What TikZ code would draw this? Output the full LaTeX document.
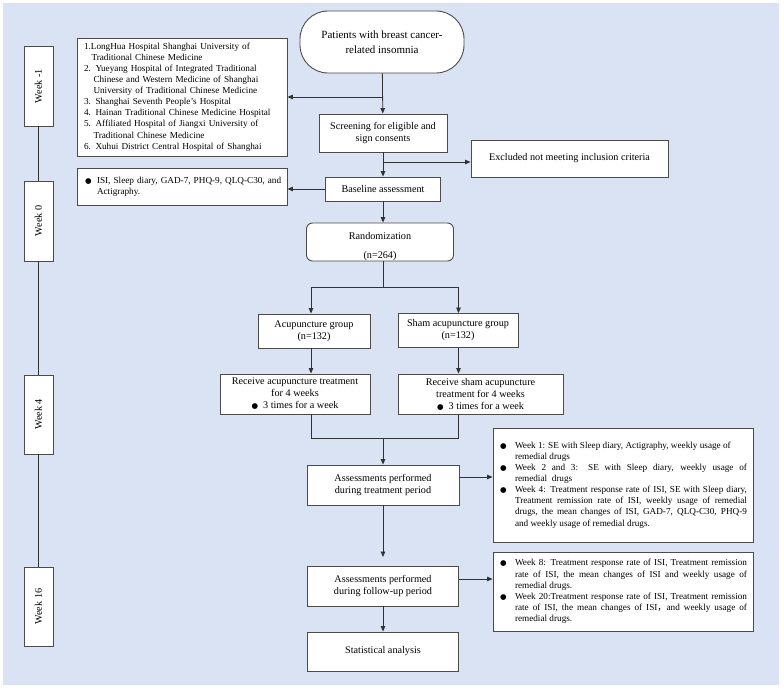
\documentclass[tikz,border=0pt]{standalone}
\usepackage{fontspec}
\setmainfont{Liberation Serif}
\newfontfamily\dejavu{DejaVu Sans}
\newfontfamily\cjkf{Noto Sans CJK SC}
\usepackage{graphicx}
\usetikzlibrary{arrows.meta,calc}
\definecolor{bgc}{RGB}{218,227,243}
\definecolor{linec}{RGB}{50,50,50}
\definecolor{boxc}{RGB}{75,75,75}
\newcommand\fmain{\fontsize{10.2}{12}\selectfont}
\newcommand\ftop{\fontsize{11}{15}\selectfont}
\newcommand\fside{\fontsize{9.2}{11.1}\selectfont}
\newcommand\blt{{\dejavu\fontsize{7.5}{7.5}\selectfont ●}}
\newcommand\hb{\llap{\makebox[16pt][l]{\hspace{1pt}\blt}}}
\newcommand\itm{\par\leftskip=16pt\noindent\hb}
\newcommand\jbox[1]{\parbox{248pt}{\fside\hyphenpenalty=10000\parindent=0pt\parfillskip=0pt plus 1fil #1\par}}
\begin{document}
\begin{tikzpicture}[x=1pt,y=-1pt,
  box/.style={draw=boxc, fill=white, line width=0.9pt, inner sep=0pt, align=center, font=\fmain},
  conn/.style={draw=linec, line width=0.8pt},
  arr/.style={conn, -{Triangle[length=5.5pt,width=4.5pt]}},
  weekbox/.style={box, minimum width=29, minimum height=80},
  sidebox/.style={box, font=\fside, minimum width=210, text width=196, align=left},
  rbox/.style={draw=boxc, fill=white, line width=0.9pt, inner sep=0pt, minimum width=260}
]
\useasboundingbox (0,0) rectangle (784,692);
\fill[bgc] (3,3) rectangle (779,685);

% main column
\node[box, rounded corners=28, minimum width=164, minimum height=62, font=\ftop] (top) at (382,42) {Patients with breast cancer-\\related insomnia};
\node[box, minimum width=128, minimum height=38] (screen) at (383,133) {Screening for eligible and\\sign consents};
\node[box, minimum width=197, minimum height=37] (excl) at (569.5,158.5) {Excluded not meeting inclusion criteria};
\node[box, minimum width=115, minimum height=24] (base) at (383,189) {Baseline assessment};
\node[box, rounded corners=6, minimum width=147, minimum height=38] (rand) at (380,242) {\rule{0pt}{16pt}Randomization\\[7pt](n=264)};
\node[box, minimum width=112, minimum height=34] (acu) at (314,331) {Acupuncture group\\(n=132)};
\node[box, minimum width=120, minimum height=34] (sham) at (458,330.5) {Sham acupuncture group\\(n=132)};
\node[box, minimum width=150, minimum height=40] (acutr) at (295,394) {Receive acupuncture treatment\\for 4 weeks\\\blt\ \ 3 times for a week};
\node[box, minimum width=165, minimum height=40] (shamtr) at (480.5,394) {Receive sham acupuncture\\treatment for 4 weeks\\\blt\ \ 3 times for a week};
\node[box, minimum width=152, minimum height=40] (asstr) at (383,485) {Assessments performed\\during treatment period};
\node[box, minimum width=151, minimum height=40] (asfu) at (383,586) {Assessments performed\\during follow-up period};
\node[box, minimum width=151, minimum height=39] (stat) at (383,651.5) {Statistical analysis};

% side boxes
\node[sidebox, minimum height=118] (hosp) at (182,97) {\mbox{1.LongHua Hospital Shanghai University of}\\
\mbox{\hspace*{7.5pt}Traditional Chinese Medicine}\\
\mbox{2. Yueyang Hospital of Integrated Traditional}\\
\mbox{\hspace*{9.5pt}Chinese and Western Medicine of Shanghai}\\
\mbox{\hspace*{9.5pt}University of Traditional Chinese Medicine}\\
\mbox{3. Shanghai Seventh People's Hospital}\\
\mbox{4. Hainan Traditional Chinese Medicine Hospital}\\
\mbox{5. Affiliated Hospital of Jiangxi University of}\\
\mbox{\hspace*{9.5pt}Traditional Chinese Medicine}\\
\mbox{6. Xuhui District Central Hospital of Shanghai}};
\node[sidebox, minimum height=37] (isi) at (182,186.5) {\mbox{\makebox[13pt][l]{\hspace{1pt}\blt}ISI, Sleep diary, GAD-7, PHQ-9, QLQ-C30, and}\\
\mbox{\hspace*{13pt}Actigraphy.}};

\node[rbox, minimum height=114] (r1) at (623,485) {\jbox{%
\itm Week 1: SE with Sleep diary, Actigraphy, weekly usage of\newline remedial drugs
\itm Week 2 and 3: SE with Sleep diary, weekly usage of\linebreak remedial\ \ drugs
\itm Week 4: Treatment response rate of ISI, SE with Sleep diary,\linebreak Treatment remission rate of ISI, weekly usage of remedial\linebreak drugs, the mean changes of ISI, GAD-7, QLQ-C30, PHQ-9\linebreak and weekly usage of remedial drugs.}};
\node[rbox, minimum height=79] (r2) at (623,591.5) {\jbox{%
\itm Week 8: Treatment response rate of ISI, Treatment remission\linebreak rate of ISI, the mean changes of ISI and weekly usage of\linebreak remedial drugs.
\itm Week 20:Treatment response rate of ISI, Treatment remission\linebreak rate of ISI, the mean changes of ISI{\cjkf ，}and weekly usage of\linebreak remedial drugs.}};

% week column
\node[weekbox] (w1) at (38.5,86) {\rotatebox{90}{Week -1}};
\node[weekbox] (w0) at (38.5,221) {\rotatebox{90}{Week 0}};
\node[weekbox, minimum height=79] (w4) at (38.5,414.5) {\rotatebox{90}{Week 4}};
\node[weekbox, minimum height=79] (w16) at (38.5,606.5) {\rotatebox{90}{Week 16}};
\draw[conn] (w1) -- (w0);
\draw[conn] (w0) -- (w4);
\draw[conn] (w4) -- (w16);

% connectors
\draw[arr] (top) -- (screen);
\draw[arr] (top.south |- hosp.east) -- (hosp.east);
\draw[arr] (screen) -- (base);
\coordinate (exb) at (383,162);
\draw[arr] (exb) -- (exb -| excl.west);
\draw[arr] (base.west) -- (base.west -| isi.east);
\draw[arr] (base.south) -- (base.south |- rand.north);
\coordinate (sm) at (383,287);
\coordinate (sl) at (311,287);
\coordinate (sr) at (458.5,287);
\draw[conn] (base.south |- rand.south) -- (sm);
\draw[conn] (sl) -- (sr);
\draw[arr] (sl) -- (sl |- acu.north);
\draw[arr] (sr) -- (sr |- sham.north);
\draw[arr] (sl |- acu.south) -- (sl |- acutr.north);
\draw[arr] (sr |- sham.south) -- (sr |- shamtr.north);
\coordinate (ml) at (311,438);
\coordinate (mr) at (458.5,438);
\coordinate (mm) at (383,438);
\draw[conn] (sl |- acutr.south) -- (ml) -- (mr) -- (sr |- shamtr.south);
\draw[arr] (mm) -- (asstr.north);
\path (asstr.east) ++(0,-8) coordinate (t1);
\draw[arr] (t1) -- (t1 -| r1.west);
\coordinate (fe) at (383,557);
\draw[arr] (asstr.south) -- (fe);
\path (asfu.east) ++(0,-7) coordinate (t2);
\draw[arr] (t2) -- (t2 -| r2.west);
\draw[arr] (asfu) -- (stat);
\end{tikzpicture}
\end{document}
